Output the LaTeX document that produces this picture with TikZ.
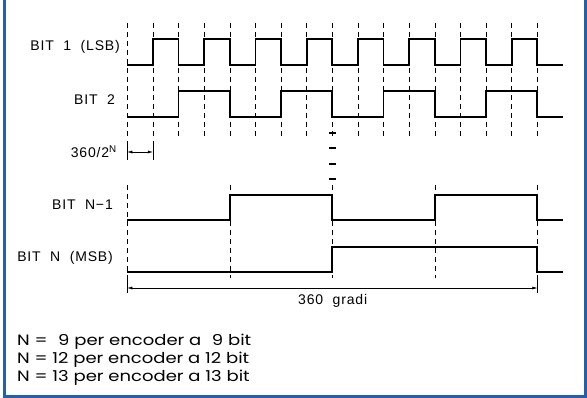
\documentclass[tikz,border=0pt]{standalone}
\usepackage{fontspec}
\usetikzlibrary{arrows.meta}
\newfontfamily\cadfont[LetterSpace=6, WordSpace=2]{Liberation Sans}
\newfontfamily\notefont[FakeStretch=1.2]{Poppins}
\definecolor{frameblue}{RGB}{38,94,168}
\tikzset{
	wave/.style={line width=1.8pt, line join=miter},
	guide/.style={line width=0.5pt, dash pattern=on 5pt off 4pt},
	dim/.style={line width=0.5pt, {Latex[length=5pt,width=3pt]}-{Latex[length=5pt,width=3pt]}},
	lbl/.style={font=\cadfont\fontsize{14}{14}\selectfont, anchor=east, inner sep=0pt},
	note/.style={font=\notefont\fontsize{15}{18}\selectfont, inner sep=0pt},
}
\begin{document}
\begin{tikzpicture}[x=1pt, y=-1pt]
		\useasboundingbox (0,0) rectangle (587,398);
		\draw[frameblue, line width=3.5pt] (4.3,0) -- (4.3,396.5) -- (585.5,396.5) -- (585.5,0);
		
		\foreach \i in {0,...,16}
		{
			\draw[guide] ({127.3+25.625*\i},23) -- ({127.3+25.625*\i},137);
		}
		\foreach \i in {0,4,...,16}
		{
			\draw[guide] ({127.3+25.625*\i},185) -- ({127.3+25.625*\i},278);
		}
		\foreach \y in {133,148,164,179}
		{
			\draw[line width=1.3pt] (329,\y) -- (336,\y);
		}
		
		\draw[wave] (127.3,65) \foreach \i in {1,3,...,15} { -- ({127.3+25.625*\i},65) -- ++(0,-26) -- ({127.3+25.625*(\i+1)},39) -- ++(0,26) } -- (563,65);
		\draw[wave] (127.3,117) \foreach \i in {2,6,10,14} { -- ({127.3+25.625*\i},117) -- ++(0,-26) -- ({127.3+25.625*(\i+2)},91) -- ++(0,26) } -- (563,117);
		\draw[wave] (127.3,220) \foreach \i in {4,12} { -- ({127.3+25.625*\i},220) -- ++(0,-25) -- ({127.3+25.625*(\i+4)},195) -- ++(0,25) } -- (563,220);
		\draw[wave] (127.3,272) -- (332.3,272) -- (332.3,247) -- (537.3,247) -- (537.3,272) -- (563,272);
		
		\coordinate (a0) at (127.3,152);
		\coordinate (a1) at (152.9,152);
		\coordinate (g0) at (127.3,288);
		\coordinate (g1) at (537.3,288);
		\draw[line width=0.5pt] (127.3,141) -- (127.3,160);
		\draw[line width=0.5pt] (152.9,141) -- (152.9,160);
		\draw[line width=0.5pt] (127.3,278) -- (127.3,293);
		\draw[line width=0.5pt] (537.3,278) -- (537.3,293);
		\draw[dim] (a0) -- (a1);
		\draw[dim] (g0) -- (g1);
		
		\node[lbl] (bitone) at (120,47) {BIT 1 (LSB)};
		\node[lbl] (bittwo) at (115,100) {BIT 2};
		\node[lbl] (resol) at (117,152) {360/2\textsuperscript{N}};
		\node[lbl] (bitpre) at (113,205) {BIT N−1};
		\node[lbl] (bitmsb) at (113,258) {BIT N (MSB)};
		\node[lbl, anchor=center] (giro) at (332.7,301) {360 gradi};
		
		\node[note, anchor=north west, align=left] (notes) at (17,334) {N = \phantom{1}9 per encoder a \phantom{1}9 bit\\N = 12 per encoder a 12 bit\\N = 13 per encoder a 13 bit};
	\end{tikzpicture}
\end{document}
